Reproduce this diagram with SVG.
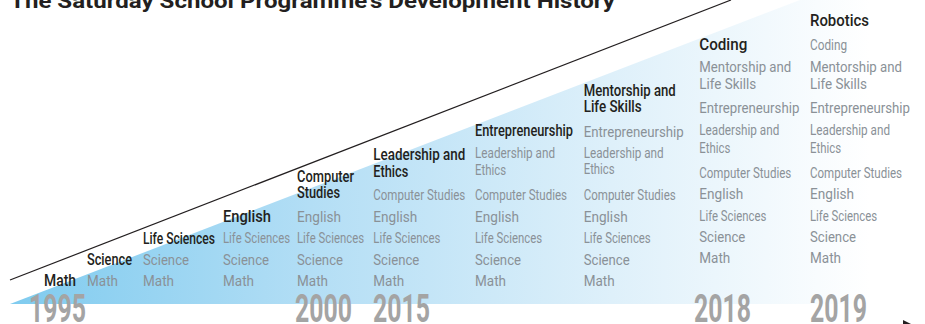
<svg xmlns="http://www.w3.org/2000/svg" width="925" height="324" viewBox="0 0 925 324">
<defs>
<linearGradient id="blue" gradientUnits="userSpaceOnUse" x1="10" y1="0" x2="870" y2="0">
<stop offset="0" stop-color="#7fcbef"/>
<stop offset="0.35" stop-color="#b3def5"/>
<stop offset="0.7" stop-color="#def0fa"/>
<stop offset="1" stop-color="#ffffff"/>
</linearGradient>
<style>
text{font-family:Roboto,"Liberation Sans",sans-serif}
.t{font-size:20px;font-weight:700;fill:#231f20}
.h{font-size:16px;font-weight:500;fill:#231f20}
.g{font-size:14px;font-weight:400;fill:#8a9197}
.y{font-size:38px;font-weight:700;fill:#a4a4a4}
.ln{stroke:#231f20;stroke-width:1.2;fill:none}
</style>
</defs>
<rect width="925" height="324" fill="#ffffff"/>
<polygon points="10,304 800,0 925,0 925,304" fill="url(#blue)"/>
<text class="t" x="10" y="7.5" textLength="605" lengthAdjust="spacingAndGlyphs">The Saturday School Programme's Development History</text>
<g id="connectors">
<line class="ln" x1="10" y1="280" x2="731" y2="0"/>
<polygon points="903,320 911,324 903,328" fill="#231f20"/>
</g>
<g id="col-1995">
<text class="h" x="44" y="285.5" textLength="32" lengthAdjust="spacingAndGlyphs">Math</text>
<text class="y" x="29" y="322" textLength="57" lengthAdjust="spacingAndGlyphs">1995</text>
</g>
<g id="col-science">
<text class="h" x="87" y="264.5" textLength="45" lengthAdjust="spacingAndGlyphs">Science</text>
<text class="g" x="87" y="285.5" textLength="31" lengthAdjust="spacingAndGlyphs">Math</text>
</g>
<g id="col-life-sciences">
<text class="h" x="143" y="243.5" textLength="72" lengthAdjust="spacingAndGlyphs">Life Sciences</text>
<text class="g" x="143" y="264.5" textLength="46" lengthAdjust="spacingAndGlyphs">Science</text>
<text class="g" x="143" y="285.5" textLength="31" lengthAdjust="spacingAndGlyphs">Math</text>
</g>
<g id="col-english">
<text class="h" x="223" y="221.5" textLength="48" lengthAdjust="spacingAndGlyphs">English</text>
<text class="g" x="223" y="243" textLength="67" lengthAdjust="spacingAndGlyphs">Life Sciences</text>
<text class="g" x="223" y="264.5" textLength="46" lengthAdjust="spacingAndGlyphs">Science</text>
<text class="g" x="223" y="285.5" textLength="31" lengthAdjust="spacingAndGlyphs">Math</text>
</g>
<g id="col-computer-studies">
<text class="h" x="297" y="181.7" textLength="57" lengthAdjust="spacingAndGlyphs">Computer</text>
<text class="h" x="297" y="197.7" textLength="43" lengthAdjust="spacingAndGlyphs">Studies</text>
<text class="g" x="297" y="221.7" textLength="44" lengthAdjust="spacingAndGlyphs">English</text>
<text class="g" x="297" y="243" textLength="67" lengthAdjust="spacingAndGlyphs">Life Sciences</text>
<text class="g" x="297" y="264.5" textLength="46" lengthAdjust="spacingAndGlyphs">Science</text>
<text class="g" x="297" y="285.5" textLength="31" lengthAdjust="spacingAndGlyphs">Math</text>
<text class="y" x="295" y="322" textLength="57" lengthAdjust="spacingAndGlyphs">2000</text>
</g>
<g id="col-leadership">
<text class="h" x="373.3" y="160" textLength="92" lengthAdjust="spacingAndGlyphs">Leadership and</text>
<text class="h" x="373.3" y="176.7" textLength="35" lengthAdjust="spacingAndGlyphs">Ethics</text>
<text class="g" x="373.3" y="200" textLength="92" lengthAdjust="spacingAndGlyphs">Computer Studies</text>
<text class="g" x="373.3" y="221.7" textLength="44" lengthAdjust="spacingAndGlyphs">English</text>
<text class="g" x="373.3" y="243" textLength="67" lengthAdjust="spacingAndGlyphs">Life Sciences</text>
<text class="g" x="373.3" y="264.5" textLength="46" lengthAdjust="spacingAndGlyphs">Science</text>
<text class="g" x="373.3" y="285.5" textLength="31" lengthAdjust="spacingAndGlyphs">Math</text>
<text class="y" x="373" y="322" textLength="57" lengthAdjust="spacingAndGlyphs">2015</text>
</g>
<g id="col-entrepreneurship">
<text class="h" x="475" y="136" textLength="98" lengthAdjust="spacingAndGlyphs">Entrepreneurship</text>
<text class="g" x="475" y="157.5" textLength="80" lengthAdjust="spacingAndGlyphs">Leadership and</text>
<text class="g" x="475" y="174.5" textLength="31" lengthAdjust="spacingAndGlyphs">Ethics</text>
<text class="g" x="475" y="200" textLength="92" lengthAdjust="spacingAndGlyphs">Computer Studies</text>
<text class="g" x="475" y="221.7" textLength="44" lengthAdjust="spacingAndGlyphs">English</text>
<text class="g" x="475" y="243" textLength="67" lengthAdjust="spacingAndGlyphs">Life Sciences</text>
<text class="g" x="475" y="264.5" textLength="46" lengthAdjust="spacingAndGlyphs">Science</text>
<text class="g" x="475" y="285.5" textLength="31" lengthAdjust="spacingAndGlyphs">Math</text>
</g>
<g id="col-mentorship">
<text class="h" x="583.7" y="95.7" textLength="92" lengthAdjust="spacingAndGlyphs">Mentorship and</text>
<text class="h" x="583.7" y="112.3" textLength="58" lengthAdjust="spacingAndGlyphs">Life Skills</text>
<text class="g" x="583.7" y="136.7" textLength="100" lengthAdjust="spacingAndGlyphs">Entrepreneurship</text>
<text class="g" x="583.7" y="157.7" textLength="80" lengthAdjust="spacingAndGlyphs">Leadership and</text>
<text class="g" x="583.7" y="174.3" textLength="31" lengthAdjust="spacingAndGlyphs">Ethics</text>
<text class="g" x="583.7" y="200" textLength="92" lengthAdjust="spacingAndGlyphs">Computer Studies</text>
<text class="g" x="583.7" y="221.7" textLength="44" lengthAdjust="spacingAndGlyphs">English</text>
<text class="g" x="583.7" y="243" textLength="67" lengthAdjust="spacingAndGlyphs">Life Sciences</text>
<text class="g" x="583.7" y="264.5" textLength="46" lengthAdjust="spacingAndGlyphs">Science</text>
<text class="g" x="583.7" y="285.5" textLength="31" lengthAdjust="spacingAndGlyphs">Math</text>
</g>
<g id="col-coding">
<text class="h" x="699.3" y="50" textLength="48" lengthAdjust="spacingAndGlyphs">Coding</text>
<text class="g" x="699.3" y="71.7" textLength="92" lengthAdjust="spacingAndGlyphs">Mentorship and</text>
<text class="g" x="699.3" y="89.3" textLength="57" lengthAdjust="spacingAndGlyphs">Life Skills</text>
<text class="g" x="699.3" y="113.3" textLength="100" lengthAdjust="spacingAndGlyphs">Entrepreneurship</text>
<text class="g" x="699.3" y="135" textLength="80" lengthAdjust="spacingAndGlyphs">Leadership and</text>
<text class="g" x="699.3" y="152.7" textLength="31" lengthAdjust="spacingAndGlyphs">Ethics</text>
<text class="g" x="699.3" y="178.3" textLength="92" lengthAdjust="spacingAndGlyphs">Computer Studies</text>
<text class="g" x="699.3" y="199" textLength="44" lengthAdjust="spacingAndGlyphs">English</text>
<text class="g" x="699.3" y="221" textLength="67" lengthAdjust="spacingAndGlyphs">Life Sciences</text>
<text class="g" x="699.3" y="242.3" textLength="46" lengthAdjust="spacingAndGlyphs">Science</text>
<text class="g" x="699.3" y="263.3" textLength="31" lengthAdjust="spacingAndGlyphs">Math</text>
<text class="y" x="694" y="322" textLength="57" lengthAdjust="spacingAndGlyphs">2018</text>
</g>
<g id="col-robotics">
<text class="h" x="810" y="26" textLength="59" lengthAdjust="spacingAndGlyphs">Robotics</text>
<text class="g" x="810" y="50" textLength="37" lengthAdjust="spacingAndGlyphs">Coding</text>
<text class="g" x="810" y="71.7" textLength="92" lengthAdjust="spacingAndGlyphs">Mentorship and</text>
<text class="g" x="810" y="89.3" textLength="57" lengthAdjust="spacingAndGlyphs">Life Skills</text>
<text class="g" x="810" y="113.3" textLength="100" lengthAdjust="spacingAndGlyphs">Entrepreneurship</text>
<text class="g" x="810" y="135" textLength="80" lengthAdjust="spacingAndGlyphs">Leadership and</text>
<text class="g" x="810" y="152.7" textLength="31" lengthAdjust="spacingAndGlyphs">Ethics</text>
<text class="g" x="810" y="178.3" textLength="92" lengthAdjust="spacingAndGlyphs">Computer Studies</text>
<text class="g" x="810" y="199" textLength="44" lengthAdjust="spacingAndGlyphs">English</text>
<text class="g" x="810" y="221" textLength="67" lengthAdjust="spacingAndGlyphs">Life Sciences</text>
<text class="g" x="810" y="242.3" textLength="46" lengthAdjust="spacingAndGlyphs">Science</text>
<text class="g" x="810" y="263.3" textLength="31" lengthAdjust="spacingAndGlyphs">Math</text>
<text class="y" x="810" y="322" textLength="57" lengthAdjust="spacingAndGlyphs">2019</text>
</g>
</svg>
